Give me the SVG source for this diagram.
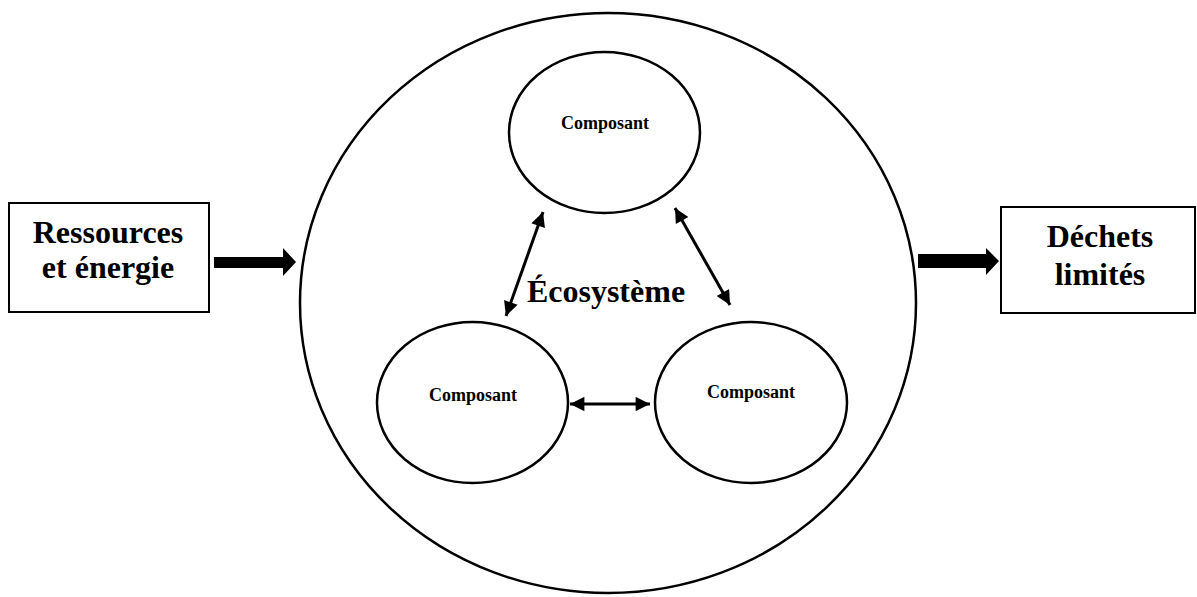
<svg xmlns="http://www.w3.org/2000/svg" width="1197" height="597" viewBox="0 0 1197 597">
<style>
.shape{fill:#fff;stroke:#000;stroke-width:2.5}
.box{fill:#fff;stroke:#000;stroke-width:2}
.big{font-family:"Liberation Serif","Times New Roman",serif;font-weight:bold;font-size:32px;fill:#000;text-anchor:middle}
.small{font-family:"Liberation Serif","Times New Roman",serif;font-weight:bold;font-size:18px;fill:#000;text-anchor:middle}
.link{stroke:#000;stroke-width:3;fill:none;marker-start:url(#ah);marker-end:url(#ah)}
.fat{fill:#000}
</style>
<defs>
<marker id="ah" viewBox="0 0 10 10" refX="10" refY="5" markerWidth="6" markerHeight="4.8" orient="auto-start-reverse" markerUnits="strokeWidth">
<path d="M0,0 L10,5 L0,10 z" fill="#000"/>
</marker>
</defs>
<rect width="1197" height="597" fill="#fff"/>
<g id="ecosysteme">
<ellipse class="shape" cx="608" cy="303" rx="308" ry="290"/>
<text class="big" x="606" y="302">Écosystème</text>
</g>
<g id="ressources">
<rect class="box" x="9" y="203" width="200" height="109"/>
<text class="big" x="108" y="243">Ressources</text>
<text class="big" x="108" y="278">et énergie</text>
</g>
<g id="dechets">
<rect class="box" x="1001" y="207" width="194" height="106"/>
<text class="big" x="1100" y="247">Déchets</text>
<text class="big" x="1100" y="285">limités</text>
</g>
<g id="composant-haut">
<ellipse class="shape" cx="604.5" cy="132.5" rx="95.5" ry="80.5"/>
<text class="small" x="605" y="129">Composant</text>
</g>
<g id="composant-gauche">
<ellipse class="shape" cx="472.5" cy="402.5" rx="95.5" ry="80.5"/>
<text class="small" x="473" y="401">Composant</text>
</g>
<g id="composant-droite">
<ellipse class="shape" cx="751" cy="402.5" rx="96" ry="80.5"/>
<text class="small" x="751" y="398">Composant</text>
</g>
<g id="connecteurs">
<path class="fat" d="M214,257 L283,257 L283,248 L296,262 L283,276 L283,268 L214,268 z"/>
<path class="fat" d="M918,254 L986,254 L986,248 L999,261 L986,275 L986,268 L918,268 z"/>
<line class="link" x1="543" y1="212" x2="506" y2="316"/>
<line class="link" x1="675" y1="208" x2="730" y2="305"/>
<line class="link" x1="570" y1="404" x2="650" y2="404"/>
</g>
</svg>
